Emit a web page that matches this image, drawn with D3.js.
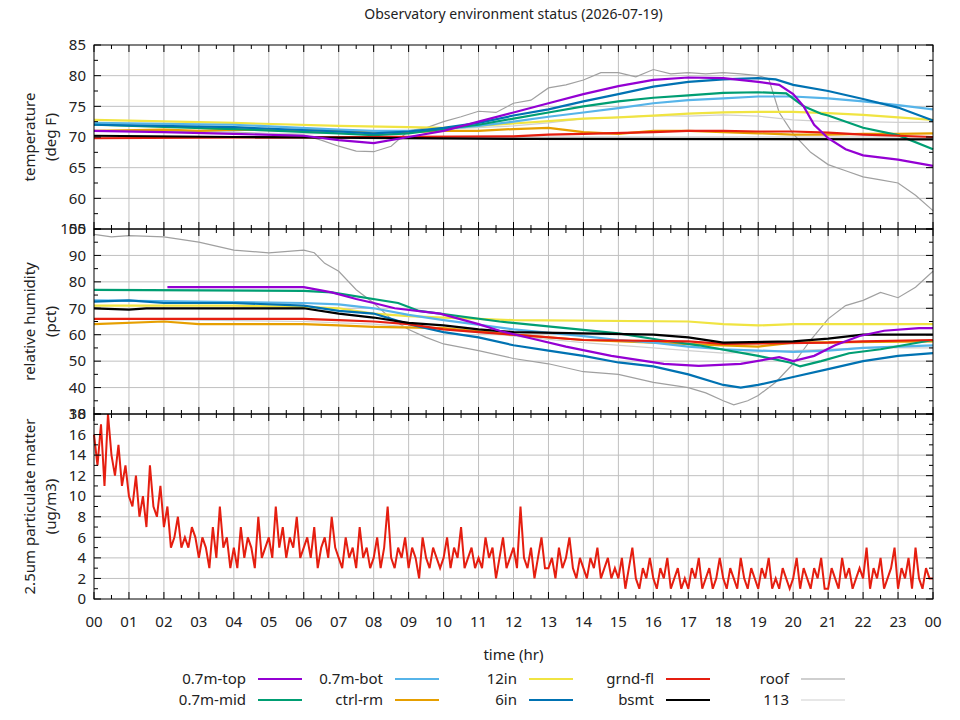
<!DOCTYPE html>
<html><head><meta charset="utf-8">
<script src="https://cdn.jsdelivr.net/npm/d3@7"></script>
<style>body{margin:0;background:#fff}text{font-family:"Noto Sans",sans-serif;fill:#222}</style>
</head><body><svg id="c" width="960" height="720"></svg>
<script>
const xTickLabels=["00","01","02","03","04","05","06","07","08","09","10","11","12","13","14","15","16","17","18","19","20","21","22","23","00"];
const seriesNames=["0.7m-top","0.7m-mid","0.7m-bot","ctrl-rm","12in","6in","grnd-fl","bsmt","roof","113"];
const seriesColors=["#9400d3","#009e73","#56b4e9","#e69f00","#f0e442","#0072b2","#e51e10","#000000","#a0a0a0","#d0d0d0"];
// temperature [hour, degF]
const tTop=[[0,71],[2,70.8],[4,70.5],[6,70.2],[7,69.5],[8,69],[9,70],[10,71],[11,72.5],[12,74],[13,75.5],[14,77],[15,78.3],[16,79.3],[17,79.7],[18,79.6],[19,79],[19.6,78.5],[20,77],[20.3,75],[20.6,72],[21,69.8],[21.5,68],[22,67],[23,66.3],[24,65.3]];
const tMid=[[0,72],[4,71.3],[7,70.6],[8,70.3],[9,70.6],[10,71.3],[11,72],[12,73],[13,74],[14,75],[15,75.8],[16,76.4],[17,76.8],[18,77.2],[19,77.3],[19.8,77.1],[20.3,75],[20.8,73.8],[21,73.5],[22,71.5],[23,70.3],[24,68]];
const tBot=[[0,72.3],[4,72],[7,71.2],[8,71],[9,71],[10,71.3],[11,71.8],[12,72.5],[13,73.3],[14,74],[15,74.7],[16,75.5],[17,76],[18,76.3],[19,76.6],[20,76.6],[21,76.3],[22,75.8],[23,75.2],[24,74.5]];
const tCtrl=[[0,71],[2,71.2],[3,71],[4,71.2],[7,71],[9,70.8],[10,71],[11,71],[12,71.3],[13,71.5],[14,70.8],[15,70.5],[16,71],[17,71],[18,70.8],[19,70.6],[20,70.4],[21,70.4],[22,70.5],[23,70.5],[24,70.6]];
const t12in=[[0,72.8],[4,72.3],[7,71.8],[9,71.6],[10,71.5],[11,71.8],[12,72.2],[13,72.6],[14,73],[15,73.2],[16,73.5],[17,73.8],[18,74],[19,74.1],[20,74.1],[21,73.9],[22,73.6],[23,73.2],[24,72.8]];
const t6in=[[0,72],[4,71.6],[7,70.9],[8,70.6],[9,70.9],[10,71.5],[11,72.3],[12,73.5],[13,74.5],[14,75.8],[15,77],[16,78.2],[17,79],[18,79.4],[19,79.6],[19.5,79.4],[20,78.5],[21,77.5],[22,76.2],[23,74.8],[24,72.7]];
const tGrnd=[[0,69.8],[12,70.1],[13,70.4],[14,70.5],[16,70.8],[17,71],[18,71],[19,70.9],[20,70.9],[21,70.7],[22,70.4],[23,70.2],[24,70]];
const tBsmt=[[0,70.2],[4,70],[12,69.7],[24,69.6]];
const tRoof=[[0,71],[4,70.8],[6,70.3],[6.5,69.5],[7,68.5],[7.5,67.7],[8,67.6],[8.5,68.5],[9,71],[9.5,71.5],[10,72.5],[10.5,73.3],[11,74.2],[11.5,74],[12,75.5],[12.5,76],[13,78],[13.5,78.5],[14,79.3],[14.5,80.5],[15,80.5],[15.5,79.8],[16,81],[16.5,80.3],[17,80.5],[17.5,80.3],[18,80.5],[18.5,80.3],[19,80],[19.3,79.5],[19.6,74],[20,70.5],[20.5,67.5],[21,65.5],[21.5,64.5],[22,63.5],[22.5,63],[23,62.5],[23.5,60.5],[24,58]];
const t113=[[0,71],[6,70.5],[9,71],[12,71.8],[13,72.3],[14,73],[15,73.2],[16,73.5],[17,73.4],[18,73.6],[19,73.4],[20,72.8],[21,72.5],[22,72.5],[23,72.4],[24,72.4]];
// relative humidity [hour, pct]
const hTop=[[2.1,78],[6,78],[6.8,76],[7.5,73.5],[8,72],[8.6,70],[9.9,68],[11,64],[11.6,61.5],[12.7,58],[13.5,55.5],[14.8,52],[16.3,49],[17.3,48.2],[18.5,49],[19.6,51.5],[20,50],[20.6,52],[21.2,56],[21.9,59.5],[22.6,61.5],[23.6,62.5],[24,62.5]];
const hMid=[[0,77],[6,76.6],[6.8,76],[8.7,72],[9.3,69],[11.6,65],[15,60.5],[16.2,58],[17.3,56],[19,52],[19.9,49.5],[20.2,48],[20.8,50],[21.6,53],[22.5,54.5],[24,58]];
const hBot=[[0,73],[6,72],[7,71.5],[8,70],[9,67.5],[10,65.5],[12,62],[14,59.5],[15,58],[16,57],[17,55.5],[18,54.5],[19,54],[20,53.5],[21,54],[22,55],[23,55.5],[24,56]];
const hCtrl=[[0,64],[2,65],[3,64],[6,64],[7,63.5],[8,63],[10,62.5],[12,60],[14,58],[16,57],[18,56],[19,55.5],[20,57],[24,57.5]];
const h12in=[[0,71],[4,71],[6,70.5],[7,70],[8,68],[9,67],[10,66.5],[11,66],[12,65.5],[17,65],[18,64],[19,63.5],[20,64],[24,64]];
const h6in=[[0,72.5],[1,73],[2,72],[4,72],[6,71],[7,69],[8,68],[9,64],[10,61],[11,59],[12,56],[13,54],[14,52],[15,49.5],[16,48],[17,45],[18,41],[18.5,40],[19,41],[20,44],[21,47],[22,50],[23,52],[24,53]];
const hGrnd=[[0,66],[6,66],[7,65.5],[8,65],[9,64],[10,62],[11,61],[12,60],[14,58],[17,57.5],[18,56.5],[21,57],[22,57.5],[24,58]];
const hBsmt=[[0,70],[1,69.5],[1.5,70],[6,70],[7,68],[8,66.5],[9,64.5],[10,63.5],[11,62],[12,61],[14,60.5],[16,60],[17,59],[18,57],[20,57.5],[21,58.5],[22,60],[24,60]];
const hRoof=[[0,98],[0.5,97],[1,97.5],[2,97],[3,95],[3.5,93.5],[4,92],[5,91],[6,92],[6.3,91],[6.6,87],[7,84],[7.5,77],[8,72],[8.5,66],[9,62],[9.5,59],[10,56.5],[11,54],[12,51],[13,49],[14,46],[15,45],[16,42],[17,40],[17.5,38],[18,35],[18.3,33.5],[18.7,35],[19,37],[19.5,42],[20,49],[20.5,58],[21,66],[21.5,71],[22,73],[22.5,76],[23,74],[23.5,78],[24,84]];
const h113=[[0,66],[6,65],[8,64],[10,62],[12,59.5],[14,57],[16,55],[17,54],[18,53],[19,53.5],[20,54],[22,55],[24,55]];
// PM2.5, 10 readings per hour
const pm=[16,13,17,11,18,14,12,15,11,13, 10,9,12,8,10,7,13,9,8,11, 7,9,5,6,8,5,6,5,7,6, 4,6,5,3,7,4,9,5,6,3,
5,3,7,4,6,5,3,8,4,5, 6,4,9,5,7,4,6,5,8,4, 5,6,4,7,3,5,6,4,8,5, 4,3,6,4,5,3,7,4,5,3,
4,6,3,5,9,4,3,5,4,6, 3,5,4,2,6,4,3,5,4,3, 4,6,3,5,4,7,3,4,5,3, 4,3,6,4,5,2,4,6,3,4,
5,3,9,4,3,5,2,4,6,3, 3,4,2,5,3,4,6,3,2,4, 3,2,4,3,5,2,3,4,2,3, 2,4,1,3,5,2,1,3,2,4,
2,1,3,2,4,1,2,3,1,2, 1,3,2,4,1,2,3,1,2,4, 2,1,3,2,1,4,2,1,3,2, 1,3,2,4,1,2,1,3,2,1,
2,4,1,3,2,1,3,2,4,1, 1,3,2,1,4,2,3,1,2,3, 2,5,1,3,2,4,1,2,3,5, 1,3,2,4,1,5,2,1,3,2, 2];

const tempSeries=[tTop,tMid,tBot,tCtrl,t12in,t6in,tGrnd,tBsmt,tRoof,t113];
const humSeries=[hTop,hMid,hBot,hCtrl,h12in,h6in,hGrnd,hBsmt,hRoof,h113];
const drawOrder=[8,9,3,4,2,1,5,6,7,0];

const svg=d3.select("#c");
const L=94,R=933;
const x=d3.scaleLinear().domain([0,24]).range([L,R]);
const panels=[
 {top:45,bot:229,dom:[55,85],major:d3.range(55,86,5),minor:d3.range(55,85.1,2.5),label:["temperature","(deg F)"]},
 {top:229,bot:414,dom:[30,100],major:d3.range(30,101,10),minor:d3.range(30,100.1,5),label:["relative humidity","(pct)"]},
 {top:414,bot:599,dom:[0,18],major:d3.range(0,19,2),minor:d3.range(0,18.1,1),label:["2.5um particulate matter","(ug/m3)"]}
];
panels.forEach(p=>{p.y=d3.scaleLinear().domain(p.dom).range([p.bot,p.top]);});
const g=svg.append("g");
panels.forEach(p=>{
 g.append("g").selectAll("line").data(d3.range(1,24)).join("line")
  .attr("x1",d=>x(d)).attr("x2",d=>x(d)).attr("y1",p.top).attr("y2",p.bot).attr("stroke","#c0c0c0");
 g.append("g").selectAll("line").data(p.major.slice(1,-1)).join("line")
  .attr("y1",d=>p.y(d)).attr("y2",d=>p.y(d)).attr("x1",L).attr("x2",R).attr("stroke","#c0c0c0");
});
const line=(p)=>d3.line().x(d=>x(d[0])).y(d=>p.y(d[1]));
drawOrder.forEach(i=>{
 const w=i>=8?1.2:2.2;
 g.append("path").datum(tempSeries[i]).attr("d",line(panels[0])).attr("fill","none").attr("stroke",seriesColors[i]).attr("stroke-width",w);
 g.append("path").datum(humSeries[i]).attr("d",line(panels[1])).attr("fill","none").attr("stroke",seriesColors[i]).attr("stroke-width",w);
});
const pmPts=pm.map((v,i)=>[i/10,v]);
g.append("path").datum(pmPts).attr("d",line(panels[2])).attr("fill","none").attr("stroke","#e51e10").attr("stroke-width",2);
panels.forEach((p,pi)=>{
 g.append("rect").attr("x",L).attr("y",p.top).attr("width",R-L).attr("height",p.bot-p.top).attr("fill","none").attr("stroke","#000");
 const tk=g.append("g").attr("stroke","#000");
 d3.range(0,24.01,0.5).forEach(h=>{const len=(h%1===0)?7:4;
  tk.append("line").attr("x1",x(h)).attr("x2",x(h)).attr("y1",p.bot).attr("y2",p.bot-len);
  tk.append("line").attr("x1",x(h)).attr("x2",x(h)).attr("y1",p.top).attr("y2",p.top+len);});
 p.minor.forEach(v=>{const len=p.major.includes(v)?7:4;
  tk.append("line").attr("x1",L).attr("x2",L+len).attr("y1",p.y(v)).attr("y2",p.y(v));
  tk.append("line").attr("x1",R).attr("x2",R-len).attr("y1",p.y(v)).attr("y2",p.y(v));});
 g.append("g").selectAll("text").data(p.major).join("text").attr("x",L-8).attr("y",d=>p.y(d)).attr("dy","0.35em")
  .attr("text-anchor","end").style("font-size","15px").text(d=>d);
 const cy=(p.top+p.bot)/2;
 p.label.forEach((s,k)=>g.append("text").attr("transform",`translate(${35+k*21},${cy}) rotate(-90)`).attr("text-anchor","middle").style("font-size","15px").text(s));
});
g.append("g").selectAll("text").data(xTickLabels).join("text").attr("x",(d,i)=>x(i)).attr("y",627).attr("text-anchor","middle").style("font-size","15px").text(d=>d);
g.append("text").attr("x",(L+R)/2).attr("y",660).attr("text-anchor","middle").style("font-size","15px").text("time (hr)");
g.append("text").attr("x",(L+R)/2).attr("y",19).attr("text-anchor","middle").style("font-size","14px").text("Observatory environment status (2026-07-19)");
const legOrder=[[0,2,4,6,8],[1,3,5,7,9]];
const colEnd=[246,383,517,654,789];
legOrder.forEach((row,ri)=>row.forEach((si,ci)=>{
 const yy=679+ri*21;
 g.append("text").attr("x",colEnd[ci]).attr("y",yy).attr("dy","0.35em").attr("text-anchor","end").style("font-size","15px").text(seriesNames[si]);
 g.append("line").attr("x1",colEnd[ci]+12).attr("x2",colEnd[ci]+56).attr("y1",yy).attr("y2",yy).attr("stroke",seriesColors[si]).attr("stroke-width",si>=8?1.2:2.2);
}));
</script></body></html>
